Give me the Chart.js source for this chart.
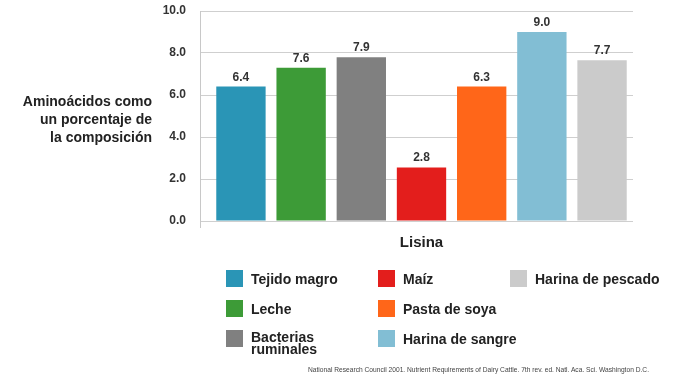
<!DOCTYPE html>
<html><head><meta charset="utf-8">
<script src="https://cdn.jsdelivr.net/npm/chart.js@4/dist/chart.umd.min.js"></script>
<style>
html,body{margin:0;padding:0;background:#fff;}
#wrap{position:relative;width:700px;height:378px;overflow:hidden;font-family:"Liberation Sans",Arial,Helvetica,sans-serif;color:#222;}
#c{position:absolute;left:0;top:0;}
#ytitle{position:absolute;right:548px;top:92px;text-align:right;font-weight:bold;font-size:14px;line-height:18px;color:#222;white-space:nowrap;}
.lg{position:absolute;display:flex;align-items:flex-start;}
.lg .bx{width:17px;height:17px;flex:none;}
.lg .tx{margin-left:8px;padding-top:3px;font-weight:bold;font-size:14px;line-height:12px;color:#222;white-space:nowrap;}
.lg .tx.wrap{white-space:normal;max-width:118px;}
#foot{position:absolute;left:308px;top:365px;font-family:"Liberation Sans Narrow","Liberation Sans",Arial,sans-serif;font-size:7.5px;line-height:9px;color:#444;white-space:nowrap;transform-origin:0 0;}
</style></head>
<body>
<div id="wrap">
<canvas id="c" width="700" height="378"></canvas>
<div id="ytitle">Aminoácidos como<br>un porcentaje de<br>la composición</div>
<div id="legend"></div>
<div id="foot">National Research Council 2001. Nutrient Requirements of Dairy Cattle. 7th rev. ed. Natl. Aca. Sci. Washington D.C.</div>
</div>
<script>
const categories = ['Lisina'];
const seriesNames = ['Tejido magro','Leche','Bacterias ruminales','Maíz','Pasta de soya','Harina de sangre','Harina de pescado'];
const seriesValues = [6.4, 7.3, 7.8, 2.55, 6.4, 9.0, 7.65];
const valueLabels = ['6.4','7.6','7.9','2.8','6.3','9.0','7.7'];
const seriesColors = ['#2A95B6','#3D9B37','#808080','#E31E1C','#FF6619','#82BED4','#CBCBCB'];
const yTickLabels = ['0.0','2.0','4.0','6.0','8.0','10.0'];

const FONT = '"Liberation Sans", Arial, Helvetica, sans-serif';

const datasets = seriesNames.map((n,i)=>({
  label:n,
  data:[seriesValues[i]],
  backgroundColor:seriesColors[i],
  borderWidth:0,
  categoryPercentage:0.951,
  barPercentage:0.82
}));

const valueLabelPlugin = {
  id:'valueLabels',
  beforeDatasetsDraw(chart){
    // trim y grid lines at right end
    const a = chart.chartArea, ctx = chart.ctx;
    ctx.save();
    ctx.fillStyle = '#fff';
    ctx.fillRect(a.right-10, a.top-2, 12, a.bottom-a.top+4);
    ctx.restore();
  },
  afterDatasetsDraw(chart){
    const ctx = chart.ctx;
    ctx.save();
    ctx.font = 'bold 12px ' + FONT;
    ctx.fillStyle = '#333';
    ctx.textAlign = 'center';
    ctx.textBaseline = 'alphabetic';
    chart.data.datasets.forEach((ds,i)=>{
      const meta = chart.getDatasetMeta(i);
      meta.data.forEach(el=>{
        ctx.fillText(valueLabels[i], el.x, el.y - 6);
      });
    });
    ctx.restore();
  }
};

const chart = new Chart(document.getElementById('c'), {
  type:'bar',
  data:{labels:categories, datasets},
  options:{
    responsive:false,
    devicePixelRatio:1,
    animation:false,
    layout:{padding:{left:0,right:57,top:11,bottom:0}},
    plugins:{legend:{display:false},tooltip:{enabled:false}},
    scales:{
      x:{
        offset:true,
        grid:{display:true,drawOnChartArea:false,drawTicks:true,tickLength:7,
          color:(c)=> c.index===0 ? '#c8c8c8' : 'rgba(0,0,0,0)'},
        border:{display:false},
        ticks:{font:{family:FONT,size:15,weight:'bold'},color:'#222',padding:6},
        afterFit:(s)=>{s.height = 378-221;}
      },
      y:{
        min:0,max:10,
        ticks:{stepSize:2,font:{family:FONT,size:12,weight:'bold'},color:'#333',padding:0,
          callback:(v,i)=>yTickLabels[i]},
        grid:{color:'#cfcfcf',drawTicks:true,tickLength:14,tickColor:'rgba(0,0,0,0)'},
        border:{display:true,color:'#c8c8c8'},
        afterFit:(s)=>{s.width = 200;}
      }
    }
  },
  plugins:[valueLabelPlugin]
});

// HTML legend built from chart datasets, column-major in 3 columns
const colLefts = [226, 378, 510];
const rowTops = [270, 300, 330];
const lg = document.getElementById('legend');
chart.data.datasets.forEach((ds,i)=>{
  const col = Math.floor(i/3), row = i%3;
  const d = document.createElement('div');
  d.className = 'lg';
  d.style.left = colLefts[col]+'px';
  d.style.top = rowTops[row]+'px';
  d.innerHTML = '<div class="bx" style="background:'+ds.backgroundColor+'"></div><div class="tx'+(col===0?' wrap':'')+'">'+ds.label+'</div>';
  lg.appendChild(d);
  const tx = d.querySelector('.tx');
  if (tx.getBoundingClientRect().height > 20) tx.style.paddingTop = '1px';
});

// fit footnote width
const f = document.getElementById('foot');
const w = f.getBoundingClientRect().width;
f.style.transform = 'scaleX(' + (341/w) + ')';
</script>
</body></html>
